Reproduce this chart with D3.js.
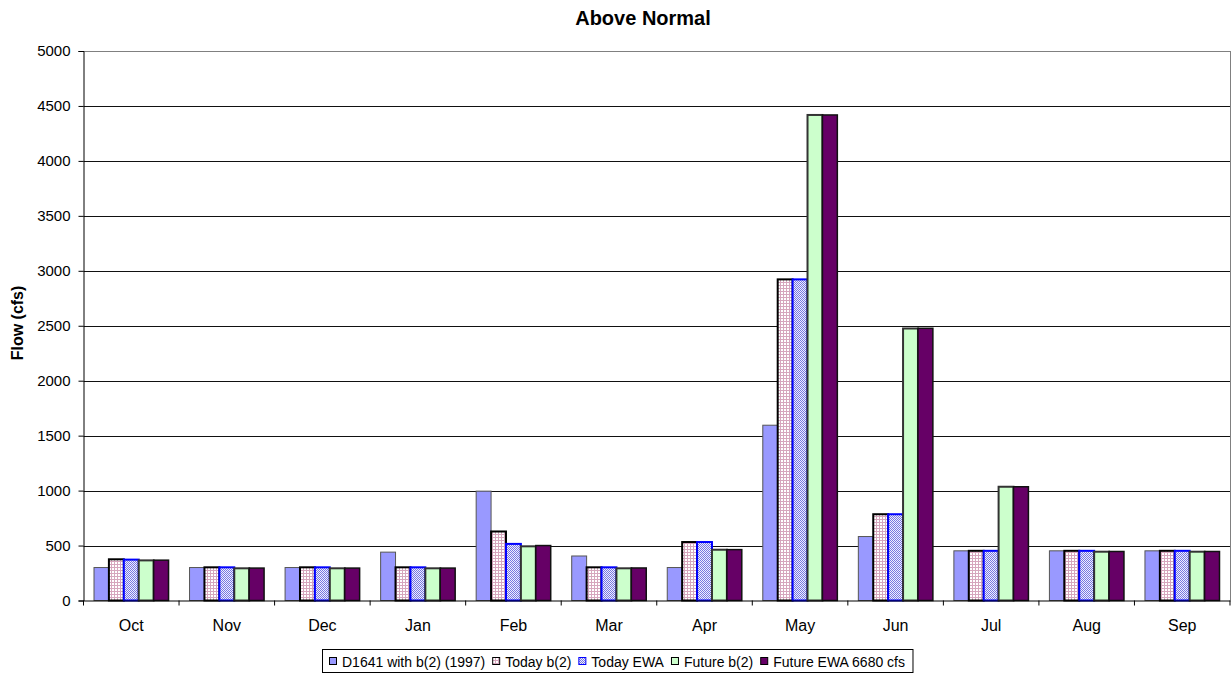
<!DOCTYPE html>
<html><head><meta charset="utf-8">
<script src="https://cdn.jsdelivr.net/npm/d3@7"></script>
<style>body{margin:0;background:#fff;font-family:"Liberation Sans",Arial,sans-serif;}</style>
</head><body><svg id="c" width="1232" height="679" font-family="Liberation Sans, Arial, sans-serif"></svg>
<script>
const months = ["Oct","Nov","Dec","Jan","Feb","Mar","Apr","May","Jun","Jul","Aug","Sep"];
const seriesNames = ["D1641 with b(2) (1997)","Today b(2)","Today EWA","Future b(2)","Future EWA 6680 cfs"];
const d1641 =      [300, 300, 300, 440, 995, 405, 300, 1595, 582, 452, 452, 452];
const todayB2 =    [375, 302, 302, 302, 628, 302, 532, 2922, 785, 452, 452, 452];
const todayEWA =   [372, 302, 302, 302, 515, 302, 532, 2922, 785, 452, 452, 452];
const futureB2 =   [365, 293, 293, 293, 493, 293, 462, 4418, 2475, 1035, 444, 444];
const futureEWA =  [367, 295, 295, 295, 500, 296, 463, 4418, 2477, 1035, 446, 446];
const yTicks = [0,500,1000,1500,2000,2500,3000,3500,4000,4500,5000];
const allSeries = [d1641, todayB2, todayEWA, futureB2, futureEWA];

const svg = d3.select("#c");
const L = 83.5, R = 1230, T = 51, B = 600.5;
const defs = svg.append("defs");
const p1 = defs.append("pattern").attr("id","pB2").attr("width",3).attr("height",3).attr("patternUnits","userSpaceOnUse");
p1.append("rect").attr("width",3).attr("height",3).attr("fill","#fff");
p1.append("rect").attr("width",3).attr("height",1).attr("fill","#d6a6bd");
p1.append("rect").attr("width",1).attr("height",3).attr("fill","#d6a6bd");
const p2 = defs.append("pattern").attr("id","pEWA").attr("width",2).attr("height",2).attr("patternUnits","userSpaceOnUse");
p2.append("rect").attr("width",2).attr("height",2).attr("fill","#eeeeff");
p2.append("rect").attr("width",1).attr("height",1).attr("fill","#7878e0");
p2.append("rect").attr("x",1).attr("y",1).attr("width",1).attr("height",1).attr("fill","#7878e0");

const styles = [
  {fill:"#9999ff", stroke:"#555", sw:1},
  {fill:"url(#pB2)", stroke:"#000", sw:2},
  {fill:"url(#pEWA)", stroke:"#0000ff", sw:2},
  {fill:"#ccffcc", stroke:"#333", sw:2},
  {fill:"#660066", stroke:"#111", sw:1.5}
];

const x = d3.scaleBand().domain(months).range([L,R]).paddingInner(0).paddingOuter(0);
const xs = d3.scaleBand().domain(d3.range(5)).range([10.5, x.bandwidth()-10.5]);
const y = d3.scaleLinear().domain([0,5000]).range([B,T]);

svg.append("g").selectAll("line").data(yTicks.filter(d=>d>0)).join("line")
  .attr("x1",L).attr("x2",R).attr("y1",d=>Math.round(y(d))+0.5).attr("y2",d=>Math.round(y(d))+0.5)
  .attr("stroke",d=>d===5000?"#808080":"#111").attr("stroke-width",1);
svg.append("line").attr("x1",R+0.5).attr("x2",R+0.5).attr("y1",T).attr("y2",B).attr("stroke","#808080");

allSeries.forEach((vals,si)=>{
  const st = styles[si];
  svg.append("g").selectAll("rect").data(vals).join("rect")
    .attr("x",(d,i)=>x(months[i])+xs(si))
    .attr("y",d=>y(d))
    .attr("width",xs.bandwidth())
    .attr("height",d=>B-y(d))
    .attr("fill",st.fill).attr("stroke",st.stroke).attr("stroke-width",st.sw);
});

const yAxis = d3.axisLeft(y).tickValues(yTicks).tickSize(5).tickPadding(8).tickFormat(d3.format("d"));
const gy = svg.append("g").attr("transform",`translate(${L},0)`).call(yAxis);
gy.selectAll("text").attr("font-size",15).attr("font-family","Liberation Sans, Arial").attr("fill","#000");
gy.select(".domain").attr("stroke","#000");

const xAxis = d3.axisBottom(x).tickSize(0).tickPadding(0);
const gx = svg.append("g").attr("transform",`translate(0,${B})`).call(xAxis);
gx.select(".domain").attr("stroke","#000");
gx.selectAll("text").attr("font-size",16).attr("font-family","Liberation Sans, Arial").attr("fill","#000")
  .attr("y",30.5).attr("dy",null);
svg.append("g").selectAll("line").data(d3.range(13)).join("line")
  .attr("x1",i=>L+i*x.bandwidth()).attr("x2",i=>L+i*x.bandwidth())
  .attr("y1",B).attr("y2",B+5).attr("stroke","#000");

svg.append("text").attr("x",643).attr("y",25).attr("text-anchor","middle")
  .attr("font-weight","bold").attr("font-size",20).text("Above Normal");
svg.append("text").attr("transform","translate(23,323) rotate(-90)").attr("text-anchor","middle")
  .attr("font-weight","bold").attr("font-size",16).text("Flow (cfs)");

// legend: laid out from measured text widths
const lg = svg.append("g");
const box = lg.append("rect").attr("y",649.5).attr("height",23).attr("fill","#fff").attr("stroke","#000");
let cx = 329;
seriesNames.forEach((n,i)=>{
  const st = styles[i];
  lg.append("rect").attr("x",cx+0.5).attr("y",657.5).attr("width",7).attr("height",7)
    .attr("fill",st.fill).attr("stroke",i===2?"#0000ff":"#000").attr("stroke-width",1);
  const t = lg.append("text").attr("x",cx+13).attr("y",667).attr("font-size",14).text(n);
  const w = t.node().getComputedTextLength();
  cx = cx + 13 + w + 7;
});
box.attr("x",322.5).attr("width",cx - 322.5 + 1);
</script></body></html>
